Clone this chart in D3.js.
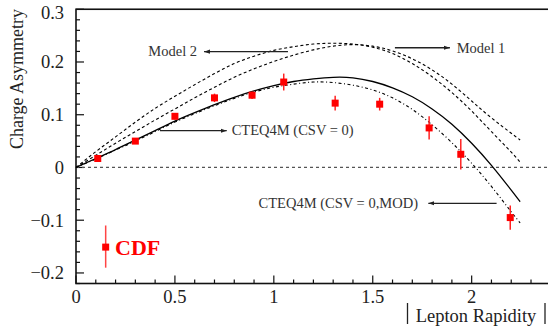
<!DOCTYPE html>
<html>
<head>
<meta charset="utf-8">
<script src="https://cdn.jsdelivr.net/npm/d3@7"></script>
<style>
  body { margin: 0; background: #fff; }
  svg { display: block; }
  text { font-family: "Liberation Serif", "Times New Roman", serif; fill: #222; }
</style>
</head>
<body>
<div id="chart"></div>
<script>
// CDF W charge asymmetry vs |lepton rapidity|
const cdfY = [0.11, 0.30, 0.50, 0.70, 0.89, 1.05, 1.31, 1.535, 1.785, 1.945, 2.195];
const cdfA = [0.017, 0.050, 0.097, 0.132, 0.137, 0.162, 0.122, 0.120, 0.075, 0.025, -0.095];
const cdfErr = [0.006, 0.005, 0.006, 0.008, 0.007, 0.016, 0.014, 0.012, 0.022, 0.029, 0.023];

// theory curves, sampled on a common rapidity grid
const rap = [0, 0.1, 0.2, 0.3, 0.4, 0.5, 0.6, 0.7, 0.8, 0.9, 1.0, 1.1, 1.2, 1.3, 1.4, 1.5, 1.6, 1.7, 1.8, 1.9, 2.0, 2.1, 2.2, 2.245];
const cteq = [0, 0.017, 0.034, 0.052, 0.070, 0.088, 0.104, 0.119, 0.133, 0.145, 0.155, 0.163, 0.168, 0.171, 0.170, 0.163, 0.151, 0.134, 0.111, 0.082, 0.046, 0.004, -0.043, -0.065];
const cteqMod = [0, 0.016, 0.033, 0.050, 0.068, 0.086, 0.102, 0.117, 0.131, 0.143, 0.152, 0.158, 0.162, 0.161, 0.156, 0.147, 0.132, 0.110, 0.081, 0.047, 0.008, -0.036, -0.084, -0.105];
const model2 = [0, 0.030, 0.058, 0.086, 0.112, 0.135, 0.157, 0.178, 0.197, 0.211, 0.222, 0.229, 0.234, 0.2355, 0.234, 0.228, 0.216, 0.197, 0.172, 0.142, 0.107, 0.068, 0.029, 0.010];
const model1 = [0, 0.023, 0.046, 0.068, 0.090, 0.111, 0.132, 0.152, 0.171, 0.187, 0.201, 0.213, 0.223, 0.230, 0.233, 0.230, 0.221, 0.206, 0.185, 0.158, 0.126, 0.094, 0.065, 0.052];

const yTicks = [0.3, 0.2, 0.1, 0, -0.1, -0.2];
const xTicks = [0, 0.5, 1, 1.5, 2];

const W = 548, H = 330;
const svg = d3.select("#chart").append("svg")
    .attr("width", W)
    .attr("height", H);

const x = d3.scaleLinear().domain([0, 2.4]).range([76, 550.8]);
const y = d3.scaleLinear().domain([-0.22, 0.3]).range([283.5, 9.25]);

// frame
svg.append("rect")
    .attr("x", x(0)).attr("y", y(0.3))
    .attr("width", x(2.4) - x(0)).attr("height", y(-0.22) - y(0.3))
    .attr("fill", "none").attr("stroke", "#111").attr("stroke-width", 1.6);

// inside ticks
const yMinor = d3.range(-0.22, 0.3001, 0.02).map(v => +v.toFixed(2));
svg.append("g").selectAll("line").data(yMinor).enter().append("line")
    .attr("x1", x(0)).attr("x2", d => x(0) + (yTicks.some(t => Math.abs(t - d) < 1e-6) ? 8 : 4))
    .attr("y1", d => y(d)).attr("y2", d => y(d))
    .attr("stroke", "#111").attr("stroke-width", 1.2);

const xMinor = d3.range(0, 2.401, 0.1).map(v => +v.toFixed(1));
svg.append("g").selectAll("line").data(xMinor).enter().append("line")
    .attr("x1", d => x(d)).attr("x2", d => x(d))
    .attr("y1", y(-0.22)).attr("y2", d => y(-0.22) - (xTicks.some(t => Math.abs(t - d) < 1e-6) ? 8 : 4))
    .attr("stroke", "#111").attr("stroke-width", 1.2);

// tick labels
svg.append("g").selectAll("text").data(yTicks).enter().append("text")
    .attr("x", 64)
    .attr("y", d => Math.max(y(d), 13))
    .attr("dy", "0.35em")
    .attr("text-anchor", "end")
    .attr("font-size", 18.5)
    .text(d => d3.format("")(d));

svg.append("g").selectAll("text").data(xTicks).enter().append("text")
    .attr("x", d => x(d))
    .attr("y", 303)
    .attr("text-anchor", "middle")
    .attr("font-size", 18.5)
    .text(d => d3.format("")(d));

// axis titles
svg.append("text")
    .attr("transform", "translate(23," + 79 + ") rotate(-90)")
    .attr("text-anchor", "middle")
    .attr("font-size", 18)
    .text("Charge Asymmetry");

svg.append("text")
    .attr("x", 476).attr("y", 322)
    .attr("text-anchor", "middle")
    .attr("font-size", 18.5)
    .text("Lepton Rapidity");
[407.5, 545].forEach(px => {
    svg.append("line")
        .attr("x1", px).attr("x2", px).attr("y1", 303).attr("y2", 324)
        .attr("stroke", "#222").attr("stroke-width", 1.3);
});

// zero line
svg.append("line")
    .attr("x1", x(0)).attr("x2", x(2.4))
    .attr("y1", y(0)).attr("y2", y(0))
    .attr("stroke", "#555").attr("stroke-width", 1.3)
    .attr("stroke-dasharray", "3,3");

// curves
const line = d3.line()
    .x(d => x(d[0]))
    .y(d => y(d[1]))
    .curve(d3.curveNatural);

const curves = [
    { vals: model2, dash: "3,2.5", w: 1.1 },
    { vals: model1, dash: "3,2.5", w: 1.1 },
    { vals: cteqMod, dash: "3,2.5,1,2.5", w: 1.1 },
    { vals: cteq, dash: null, w: 1.3 }
];
curves.forEach(c => {
    svg.append("path")
        .datum(rap.map((r, i) => [r, c.vals[i]]))
        .attr("d", line)
        .attr("fill", "none")
        .attr("stroke", "#000")
        .attr("stroke-width", c.w)
        .attr("stroke-dasharray", c.dash);
});

// data points
const pts = cdfY.map((r, i) => ({ r: r, a: cdfA[i], e: cdfErr[i] }));
const g = svg.append("g");
g.selectAll("line").data(pts).enter().append("line")
    .attr("x1", d => x(d.r)).attr("x2", d => x(d.r))
    .attr("y1", d => y(d.a + d.e)).attr("y2", d => y(d.a - d.e))
    .attr("stroke", "#f22").attr("stroke-width", 1.5);
g.selectAll("rect").data(pts).enter().append("rect")
    .attr("x", d => x(d.r) - 3.5).attr("y", d => y(d.a) - 3.5)
    .attr("width", 7).attr("height", 7)
    .attr("fill", "#f00");

// legend marker
svg.append("line")
    .attr("x1", x(0.15)).attr("x2", x(0.15))
    .attr("y1", y(-0.11)).attr("y2", y(-0.19))
    .attr("stroke", "#f44").attr("stroke-width", 1.5);
svg.append("rect")
    .attr("x", x(0.15) - 3.5).attr("y", y(-0.151) - 3.5)
    .attr("width", 7).attr("height", 7)
    .attr("fill", "#f00");
svg.append("text")
    .attr("x", 115).attr("y", y(-0.151))
    .attr("dy", "0.35em")
    .attr("font-size", 22)
    .attr("font-weight", "bold")
    .style("fill", "#f00")
    .text("CDF");

// annotations with arrows
svg.append("defs").append("marker")
    .attr("id", "arr")
    .attr("viewBox", "0 0 10 10")
    .attr("refX", 10).attr("refY", 5)
    .attr("markerWidth", 6).attr("markerHeight", 6)
    .attr("markerUnits", "userSpaceOnUse")
    .attr("orient", "auto")
    .append("path").attr("d", "M0,1.5L10,5L0,8.5Z").attr("fill", "#222");

const notes = [
    { label: "Model 2", from: [1.0715, 0.2195], to: [0.647, 0.2195], tx: 0.612, anchor: "end" },
    { label: "Model 1", from: [1.612, 0.227], to: [1.890, 0.227], tx: 1.924, anchor: "start" },
    { label: "CTEQ4M (CSV = 0)", from: [0.4246, 0.0698], to: [0.762, 0.0698], tx: 0.787, anchor: "start" },
    { label: "CTEQ4M (CSV = 0,MOD)", from: [2.126, -0.068], to: [1.781, -0.068], tx: 1.7286, anchor: "end" }
];
notes.forEach(n => {
    svg.append("line")
        .attr("x1", x(n.from[0])).attr("y1", y(n.from[1]))
        .attr("x2", x(n.to[0])).attr("y2", y(n.to[1]))
        .attr("stroke", "#222").attr("stroke-width", 1.3)
        .attr("marker-end", "url(#arr)");
    svg.append("text")
        .attr("x", x(n.tx)).attr("y", y(n.to[1]))
        .attr("dy", "0.33em")
        .attr("text-anchor", n.anchor)
        .attr("font-size", 14.5)
        .style("fill", "#333")
        .text(n.label);
});
</script>
</body>
</html>
